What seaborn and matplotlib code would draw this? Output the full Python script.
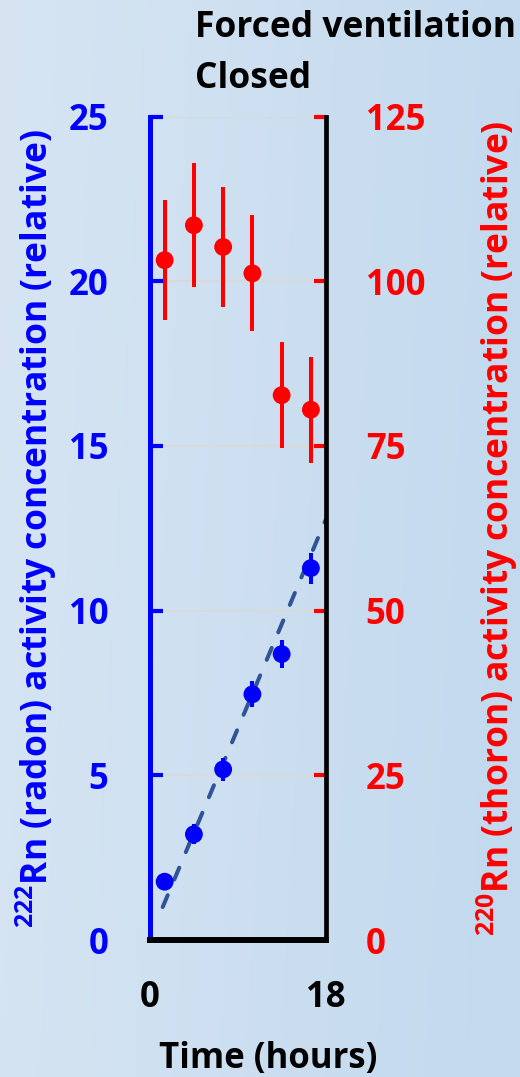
import numpy as np
import matplotlib
matplotlib.use("Agg")
import matplotlib.pyplot as plt
import seaborn as sns
import pandas as pd

# Sampling times (hours, interval midpoints)
hours = [1.5, 4.5, 7.5, 10.5, 13.5, 16.5]
# 222Rn (radon) relative activity concentration, left axis
radon = [1.77, 3.21, 5.18, 7.46, 8.68, 11.29]
radon_err = [0.2, 0.3, 0.35, 0.4, 0.43, 0.47]
# 220Rn (thoron) relative activity concentration, right axis
thoron = [103.2, 108.5, 105.2, 101.2, 82.7, 80.5]
thoron_err = [9.1, 9.4, 9.1, 8.8, 8.05, 8.05]
# Linear trend of radon build-up (end points)
trend_hours = [1.3, 18.0]
trend_radon = [1.0, 12.75]

left_ticks = [0, 5, 10, 15, 20, 25]
right_ticks = [0, 25, 50, 75, 100, 125]
x_ticks = [0, 18]

FONT = "Open Sans"

sns.set_theme(style="white")
plt.rcParams["font.family"] = [FONT, "DejaVu Sans"]
plt.rcParams["font.weight"] = "bold"
plt.rcParams["mathtext.fontset"] = "custom"
plt.rcParams["mathtext.rm"] = FONT + ":bold"
plt.rcParams["mathtext.it"] = FONT + ":bold"
plt.rcParams["mathtext.bf"] = FONT + ":bold"
plt.rcParams["mathtext.default"] = "rm"

BLUE = "#0000FF"
RED = "#FF0000"
TREND = "#2F5597"
GRID = "#D9D9D9"
TICK_FS = 25
TEXT_FS = 25.5

fig = plt.figure(figsize=(5.2, 10.77), dpi=100)

# Soft blue gradient backdrop
bg = fig.add_axes([0, 0, 1, 1], zorder=-10)
c_left = np.array([215, 229, 243]) / 255
c_right = np.array([194, 217, 238]) / 255
gx = np.linspace(0, 1, 256)[None, :, None]
gy = np.linspace(0, 1, 64)[:, None, None]
grad = c_left + (c_right - c_left) * np.clip(gx * 0.9 + gy * 0.1, 0, 1)
bg.imshow(grad, aspect="auto", extent=[0, 1, 0, 1], origin="upper")
bg.axis("off")

ax = fig.add_axes([0.2885, 0.1272, 0.3375, 0.7646])
ax.set_facecolor("none")
ax2 = ax.twinx()
ax2.set_facecolor("none")

df_rn = pd.DataFrame({"hours": hours, "radon": radon})
df_tn = pd.DataFrame({"hours": hours, "thoron": thoron})
df_tr = pd.DataFrame({"hours": trend_hours, "radon": trend_radon})

# Radon: trend line, error bars, points
sns.lineplot(data=df_tr, x="hours", y="radon", ax=ax, color=TREND, lw=2.9,
             linestyle=(0, (3.2, 4.2)), zorder=3)
ax.lines[-1].set_dash_capstyle("round")
ax.errorbar(hours, radon, yerr=radon_err, fmt="none", ecolor=BLUE,
            elinewidth=2.9, capsize=0, zorder=4)
sns.scatterplot(data=df_rn, x="hours", y="radon", ax=ax, color=BLUE, s=165,
                edgecolor="none", zorder=5)

# Thoron: error bars, points
ax2.errorbar(hours, thoron, yerr=thoron_err, fmt="none", ecolor=RED,
             elinewidth=2.9, capsize=0, zorder=4)
sns.scatterplot(data=df_tn, x="hours", y="thoron", ax=ax2, color=RED, s=165,
                edgecolor="none", zorder=5)

ax.set_xlim(0, 18)
ax.set_ylim(0, 25)
ax2.set_ylim(0, 125)
ax.set_xticks(x_ticks)
ax.set_yticks(left_ticks)
ax2.set_yticks(right_ticks)
ax.set_xlabel("")
ax.set_ylabel("")
ax2.set_ylabel("")

ax.yaxis.grid(True, color=GRID, lw=1.5)
ax.xaxis.grid(False)
ax2.grid(False)

for a in (ax, ax2):
    for s in a.spines.values():
        s.set_visible(False)
ax.spines["left"].set_visible(True)
ax.spines["left"].set_color(BLUE)
ax.spines["left"].set_linewidth(3.6)
ax2.spines["bottom"].set_visible(True)
ax2.spines["bottom"].set_color("black")
ax2.spines["bottom"].set_linewidth(4.3)
ax2.spines["bottom"].set_capstyle("projecting")
ax2.spines["right"].set_visible(True)
ax2.spines["right"].set_color("black")
ax2.spines["right"].set_linewidth(3.4)

ax.tick_params(axis="y", direction="in", length=9, width=3, color=BLUE,
               labelcolor=BLUE, labelsize=TICK_FS, pad=30, left=True, right=False)
ax.tick_params(axis="x", length=0, labelsize=TICK_FS, labelcolor="black", pad=29)
ax2.tick_params(axis="x", length=0, bottom=False, labelbottom=False)
ax2.tick_params(axis="y", direction="in", length=9, width=3, color=RED,
                labelcolor=RED, labelsize=TICK_FS, pad=29, right=True, left=False)
for lab in ax.get_yticklabels() + ax.get_xticklabels() + ax2.get_yticklabels():
    lab.set_fontweight("bold")

fig.text(0.375, 1 - 37 / 1077, "Forced ventilation", fontsize=TEXT_FS,
         fontweight="bold", color="black", va="baseline", ha="left")
fig.text(0.375, 1 - 88 / 1077, "Closed", fontsize=TEXT_FS,
         fontweight="bold", color="black", va="baseline", ha="left")
fig.text(159 / 520, 1 - 1068 / 1077, "Time (hours)", fontsize=25,
         fontweight="bold", color="black", va="baseline", ha="left")

fig.text(36 / 520, 1 - 529 / 1077,
         r"$^{222}$Rn (radon) activity concentration (relative)",
         rotation=90, rotation_mode="anchor", ha="center", va="center",
         fontsize=TEXT_FS, fontweight="bold", color=BLUE)
fig.text(497 / 520, 1 - 528 / 1077,
         r"$^{220}$Rn (thoron) activity concentration (relative)",
         rotation=90, rotation_mode="anchor", ha="center", va="center",
         fontsize=TEXT_FS, fontweight="bold", color=RED)

fig.savefig("out.png", dpi=100)
